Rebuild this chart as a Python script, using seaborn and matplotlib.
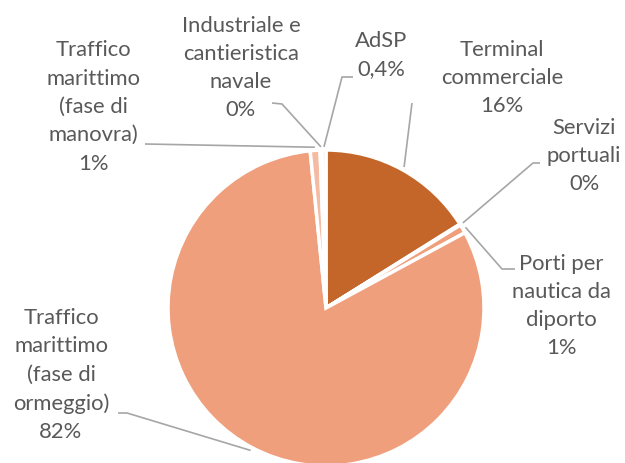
import matplotlib
matplotlib.use("Agg")
import matplotlib.pyplot as plt
import seaborn as sns
import numpy as np

# ---- data (clockwise from 12 o'clock) ----
categories = ["Terminal commerciale", "Servizi portuali", "Porti per nautica da diporto",
              "Traffico marittimo (fase di ormeggio)", "Traffico marittimo (fase di manovra)",
              "Industriale e cantieristica navale", "AdSP"]
values = [16.1, 0.1, 0.9, 81.3, 1.0, 0.2, 0.4]
value_labels = ["16%", "0%", "1%", "82%", "1%", "0%", "0,4%"]
label_texts = ["Terminal\ncommerciale", "Servizi\nportuali", "Porti per\nnautica da\ndiporto",
               "Traffico\nmarittimo\n(fase di\normeggio)", "Traffico\nmarittimo\n(fase di\nmanovra)",
               "Industriale e\ncantieristica\nnavale", "AdSP"]
colors = ["#C46629", "#F4B89C", "#F09F7C", "#F09F7C", "#F4BAA2", "#F8CBAD", "#FADBC8"]

# ---- layout (image pixel coordinates) ----
W, H = 625, 463
text_pos = [(502, 78), (584, 156), (561, 306), (61, 375), (93, 107), (241, 68), (381, 55)]
leader_elbows = [
    [(412, 103)],
    [(540, 163), (533, 163)],
    [(515, 269), (502, 269)],
    [(118, 413), (127, 413)],
    [(145, 144)],
    [(272, 103), (282, 104)],
    [(353, 77), (342, 77)],
]
cx, cy, R = 326, 308, 158

sns.set_theme(style="white")
plt.rcParams['font.family'] = ['Lato', 'DejaVu Sans']

fig = plt.figure(figsize=(W / 100, H / 100), dpi=100)
ax = fig.add_axes([0, 0, 1, 1])

wedges, _ = ax.pie(values, colors=colors, startangle=90, counterclock=False,
                   center=(cx, H - cy), radius=R,
                   wedgeprops=dict(edgecolor="white", linewidth=2.5))
ax.set_xlim(0, W)
ax.set_ylim(0, H)
ax.set_aspect("equal")
ax.axis("off")

for w, lab, val, (tx, ty), elbows in zip(wedges, label_texts, value_labels, text_pos, leader_elbows):
    ang = np.deg2rad((w.theta1 + w.theta2) / 2)
    px = cx + R * 1.02 * np.cos(ang)
    py = (H - cy) + R * 1.02 * np.sin(ang)
    xs = [e[0] for e in elbows] + [px]
    ys = [H - e[1] for e in elbows] + [py]
    ax.plot(xs, ys, color="#A6A6A6", lw=1.2, solid_capstyle="butt", zorder=1)
    ax.text(tx, H - ty, lab + "\n" + val, ha="center", va="center", multialignment="center",
            fontsize=15.8, color="#595959", linespacing=1.52)

fig.savefig("out.png", dpi=100)
